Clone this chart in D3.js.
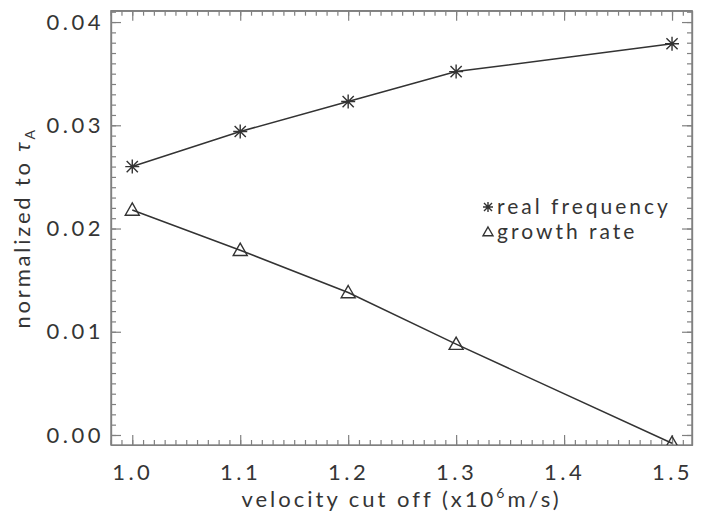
<!DOCTYPE html>
<html>
<head>
<meta charset="utf-8">
<script src="https://cdn.jsdelivr.net/npm/d3@7"></script>
<style>
  body { margin: 0; background: #fff; }
  text { font-family: Lato, "Liberation Sans", sans-serif; font-weight: 400; fill: #353535; }
  .axis path, .axis line { stroke: #808080; stroke-width: 1.2; }
  .axis text { font-size: 22px; letter-spacing: 3.5px; }
</style>
</head>
<body>
<script>
// data
var velocity = [1.0, 1.1, 1.2, 1.3, 1.5];
var realFrequency = [0.0260, 0.0294, 0.0323, 0.0352, 0.0379];
var growthRate = [0.0218, 0.0179, 0.0138, 0.0088, -0.0008];
var xTicks = [1.0, 1.1, 1.2, 1.3, 1.4, 1.5];
var yTicks = [0.00, 0.01, 0.02, 0.03, 0.04];

var W = 706, H = 519;
var pLeft = 111, pRight = 692, pTop = 10.7, pBottom = 445;

var svg = d3.select("body")
    .append("svg")
    .attr("width", W)
    .attr("height", H);

var x = d3.scaleLinear().domain([0.9803, 1.5185]).range([pLeft, pRight]);
var y = d3.scaleLinear().domain([-0.00097, 0.0411]).range([pBottom, pTop]);

var xMinor = d3.range(98, 152).map(function(i){ return i / 100; });
var yMinor = d3.range(0, 42).map(function(i){ return i / 1000; });

// minor ticks on all four sides (inward)
function minorAxis(axis, vals, tr){
    svg.append("g").attr("class", "axis")
        .attr("transform", tr)
        .call(axis.tickValues(vals).tickFormat("").tickSize(-5).tickSizeOuter(0));
}
minorAxis(d3.axisBottom(x), xMinor, "translate(0," + pBottom + ")");
minorAxis(d3.axisTop(x), xMinor, "translate(0," + pTop + ")");
minorAxis(d3.axisLeft(y), yMinor, "translate(" + pLeft + ",0)");
minorAxis(d3.axisRight(y), yMinor, "translate(" + pRight + ",0)");

// major ticks
svg.append("g").attr("class", "axis")
    .attr("transform", "translate(0," + pBottom + ")")
    .call(d3.axisBottom(x).tickValues(xTicks).tickFormat(d3.format(".1f"))
        .tickSize(-10).tickSizeOuter(0).tickPadding(19));
svg.append("g").attr("class", "axis")
    .attr("transform", "translate(0," + pTop + ")")
    .call(d3.axisTop(x).tickValues(xTicks).tickFormat("").tickSize(-10).tickSizeOuter(0));
svg.append("g").attr("class", "axis")
    .attr("transform", "translate(" + pLeft + ",0)")
    .call(d3.axisLeft(y).tickValues(yTicks).tickFormat(d3.format(".2f"))
        .tickSize(-10).tickSizeOuter(0).tickPadding(7));
svg.append("g").attr("class", "axis")
    .attr("transform", "translate(" + pRight + ",0)")
    .call(d3.axisRight(y).tickValues(yTicks).tickFormat("").tickSize(-10).tickSizeOuter(0));

// frame
svg.append("rect")
    .attr("x", pLeft).attr("y", pTop)
    .attr("width", pRight - pLeft).attr("height", pBottom - pTop)
    .attr("fill", "none").attr("stroke", "#808080").attr("stroke-width", 1.4);

svg.append("clipPath").attr("id", "clip")
    .append("rect").attr("x", pLeft).attr("y", pTop)
    .attr("width", pRight - pLeft).attr("height", pBottom - pTop);
var plot = svg.append("g").attr("clip-path", "url(#clip)");

var line = d3.line()
    .x(function(d){ return x(d[0]); })
    .y(function(d){ return y(d[1]); });

var rf = velocity.map(function(v, i){ return [v, realFrequency[i]]; });
var gr = velocity.map(function(v, i){ return [v, growthRate[i]]; });

plot.append("path").datum(rf).attr("d", line)
    .attr("fill", "none").attr("stroke", "#333").attr("stroke-width", 1.5);
plot.append("path").datum(gr).attr("d", line)
    .attr("fill", "none").attr("stroke", "#333").attr("stroke-width", 1.5);

function star(g, cx, cy, r){
    var d = r * 0.8;
    var p = "M" + (cx - r) + "," + cy + "L" + (cx + r) + "," + cy +
        "M" + cx + "," + (cy - r) + "L" + cx + "," + (cy + r) +
        "M" + (cx - d) + "," + (cy - d) + "L" + (cx + d) + "," + (cy + d) +
        "M" + (cx - d) + "," + (cy + d) + "L" + (cx + d) + "," + (cy - d);
    g.append("path").attr("d", p).attr("stroke", "#333").attr("stroke-width", 1.4).attr("fill", "none");
}
function tri(g, cx, cy, r){
    var p = "M" + cx + "," + (cy - r) + "L" + (cx + r) + "," + (cy + r * 0.75) +
        "L" + (cx - r) + "," + (cy + r * 0.75) + "Z";
    g.append("path").attr("d", p).attr("stroke", "#333").attr("stroke-width", 1.4).attr("fill", "none");
}

rf.forEach(function(d){ star(plot, x(d[0]), y(d[1]), 7); });
gr.forEach(function(d){ tri(plot, x(d[0]), y(d[1]), 7); });

// legend
star(svg, 488, 207, 5);
tri(svg, 488, 232, 5);
svg.append("text").attr("x", 497).attr("y", 214)
    .attr("font-size", 21).attr("letter-spacing", 3).text("real frequency");
svg.append("text").attr("x", 497).attr("y", 239)
    .attr("font-size", 21).attr("letter-spacing", 3).text("growth rate");

// axis titles
var xt = svg.append("text").attr("x", (pLeft + pRight) / 2).attr("y", 507)
    .attr("text-anchor", "middle").attr("font-size", 22).attr("letter-spacing", 3);
xt.append("tspan").text("velocity cut off (x10");
xt.append("tspan").attr("font-size", 14).attr("dy", -9).text("6");
xt.append("tspan").attr("dy", 9).text("m/s)");

var yt = svg.append("text")
    .attr("transform", "translate(30," + ((pTop + pBottom) / 2) + ") rotate(-90)")
    .attr("text-anchor", "middle").attr("font-size", 22).attr("letter-spacing", 2.8);
yt.append("tspan").text("normalized to ");
yt.append("tspan").attr("font-style", "italic").text("τ");
yt.append("tspan").attr("font-size", 14).attr("dy", 5).text("A");
</script>
</body>
</html>
